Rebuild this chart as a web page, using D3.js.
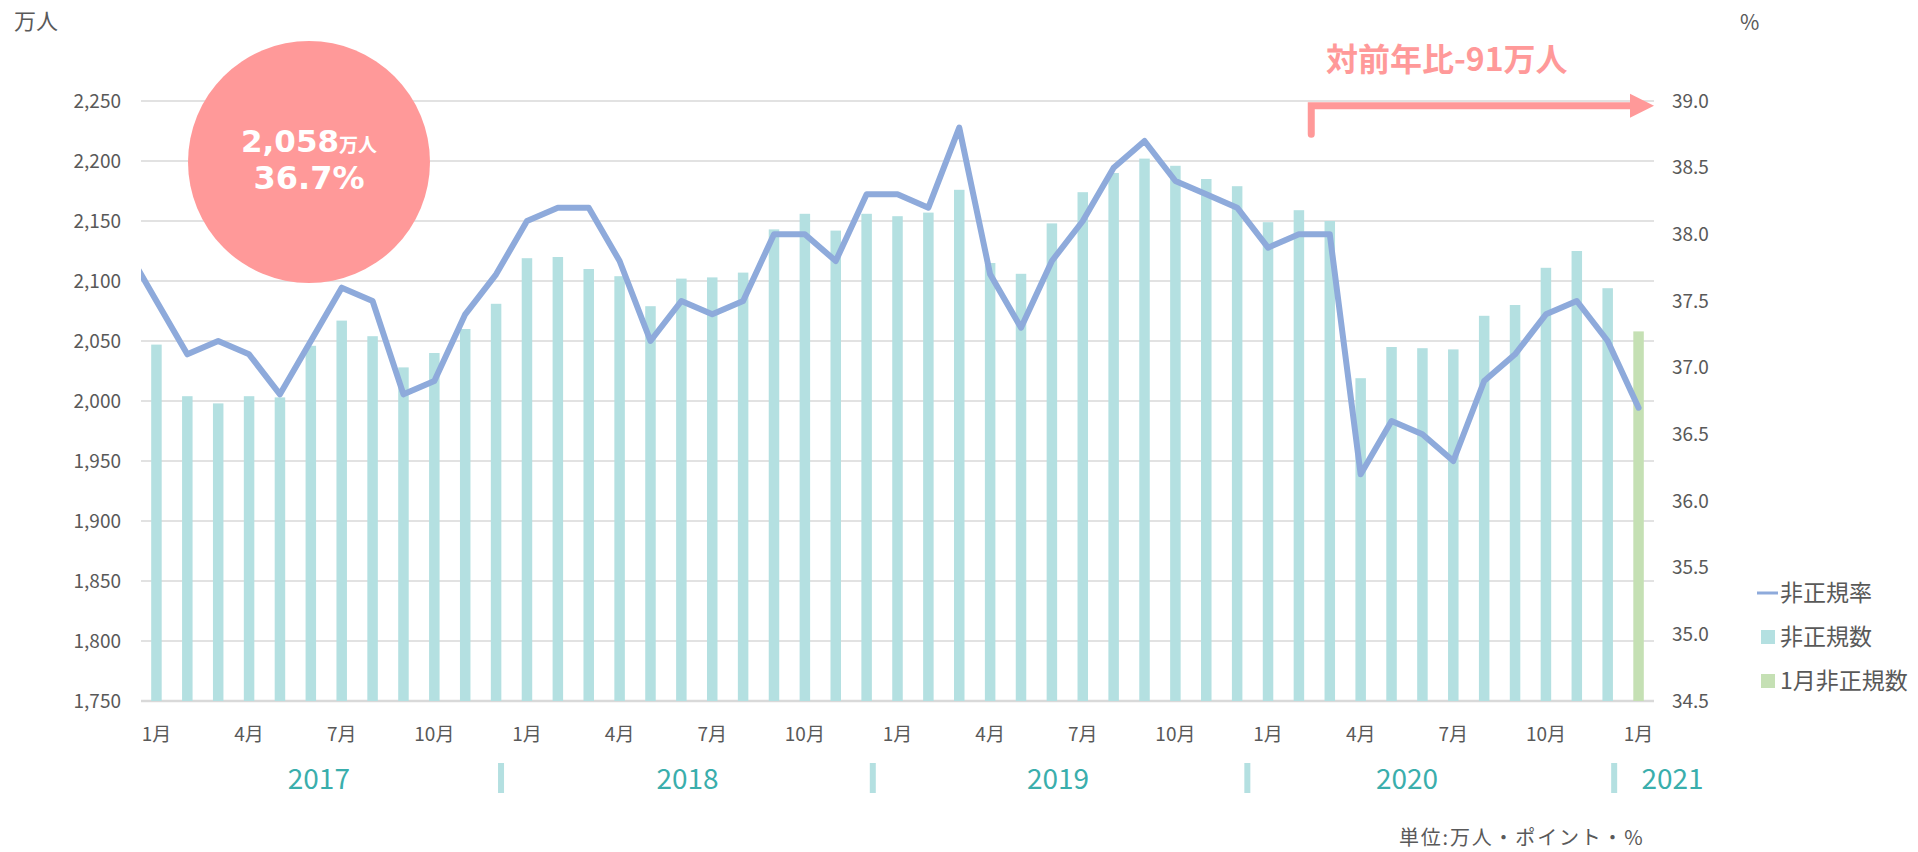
<!DOCTYPE html>
<html>
<head>
<meta charset="utf-8">
<script src="https://cdn.jsdelivr.net/npm/d3@7"></script>
<style>
  body { margin: 0; background: #fff; }
  text { font-family: "Noto Sans CJK JP", "Noto Sans", sans-serif; }
</style>
</head>
<body>
<div id="chart"></div>
<script>
// ---- data ----
var months = ["2017-01","2017-02","2017-03","2017-04","2017-05","2017-06","2017-07","2017-08","2017-09","2017-10","2017-11","2017-12",
              "2018-01","2018-02","2018-03","2018-04","2018-05","2018-06","2018-07","2018-08","2018-09","2018-10","2018-11","2018-12",
              "2019-01","2019-02","2019-03","2019-04","2019-05","2019-06","2019-07","2019-08","2019-09","2019-10","2019-11","2019-12",
              "2020-01","2020-02","2020-03","2020-04","2020-05","2020-06","2020-07","2020-08","2020-09","2020-10","2020-11","2020-12",
              "2021-01"];
// 非正規数 (万人)
var counts = [2047, 2004, 1998, 2004, 2003, 2046, 2067, 2054, 2028, 2040, 2060, 2081,
              2119, 2120, 2110, 2104, 2079, 2102, 2103, 2107, 2143, 2156, 2142, 2156,
              2154, 2157, 2176, 2115, 2106, 2148, 2174, 2190, 2202, 2196, 2185, 2179,
              2149, 2159, 2150, 2019, 2045, 2044, 2043, 2071, 2080, 2111, 2125, 2094,
              2058];
// 非正規率 (%), the line enters from Dec 2016 and is clipped at the plot edge
var ratePrev = 37.9;
var rates = [37.5, 37.1, 37.2, 37.1, 36.8, 37.2, 37.6, 37.5, 36.8, 36.9, 37.4, 37.7,
             38.1, 38.2, 38.2, 37.8, 37.2, 37.5, 37.4, 37.5, 38.0, 38.0, 37.8, 38.3,
             38.3, 38.2, 38.8, 37.7, 37.3, 37.8, 38.1, 38.5, 38.7, 38.4, 38.3, 38.2,
             37.9, 38.0, 38.0, 36.2, 36.6, 36.5, 36.3, 36.9, 37.1, 37.4, 37.5, 37.2,
             36.7];
var leftTicks = [1750, 1800, 1850, 1900, 1950, 2000, 2050, 2100, 2150, 2200, 2250];
var rightTicks = [34.5, 35.0, 35.5, 36.0, 36.5, 37.0, 37.5, 38.0, 38.5, 39.0];
var years = ["2017", "2018", "2019", "2020", "2021"];
var legendItems = [{name: "非正規率", type: "line"}, {name: "非正規数", type: "bar"}, {name: "1月非正規数", type: "hl"}];

// ---- look ----
var w = 1918, h = 852;
var barColor = "#b4e0e1", hlColor = "#c5e0b4", lineColor = "#8eaadb",
    pink = "#ff9999", tealText = "#3aaeac", axisText = "#595959", gridColor = "#d9d9d9";
var margin = {top: 101, left: 141, right: 264, bottom: 151},
    width = w - margin.left - margin.right,
    height = h - margin.top - margin.bottom;
// year label centres and separators, in month-index units
var yearLabelPos = [5.76, 17.7, 29.7, 41.0, 49.6],
    yearSepPos = [11.66, 23.7, 35.83, 47.71];

var svg = d3.select("#chart").append("svg")
    .attr("width", w)
    .attr("height", h);
var g = svg.append("g")
    .attr("transform", "translate(" + margin.left + "," + margin.top + ")");

var x = d3.scaleBand().domain(months).range([0, width]);
var xi = d3.scaleLinear().domain([0, months.length]).range([0, width]);
var y = d3.scaleLinear().domain([1750, 2250]).range([height, 0]);
var y2 = d3.scaleLinear().domain([34.5, 39.0]).range([height, 0]);
var bw = x.step() * 0.34;

// gridlines
g.selectAll(".grid")
  .data(leftTicks)
  .enter().append("line")
    .attr("class", "grid")
    .attr("x1", 0).attr("x2", width)
    .attr("y1", function(d) { return y(d); })
    .attr("y2", function(d) { return y(d); })
    .attr("stroke", gridColor)
    .attr("stroke-width", function(d, i) { return i === 0 ? 2.5 : 1.5; });

// left axis
var axL = g.append("g")
    .call(d3.axisLeft(y).tickValues(leftTicks).tickFormat(d3.format(",")).tickSize(0).tickPadding(20));
axL.select(".domain").remove();
axL.selectAll("text").attr("fill", axisText).style("font-size", "19px");

// right axis
var axR = g.append("g")
    .attr("transform", "translate(" + width + ",0)")
    .call(d3.axisRight(y2).tickValues(rightTicks).tickFormat(d3.format(".1f")).tickSize(0).tickPadding(18));
axR.select(".domain").remove();
axR.selectAll("text").attr("fill", axisText).style("font-size", "19px");

// bottom axis: month labels every quarter
var axB = g.append("g")
    .attr("transform", "translate(0," + height + ")")
    .call(d3.axisBottom(x)
      .tickValues(months.filter(function(d, i) { return i % 3 === 0; }))
      .tickFormat(function(d) { return (+d.slice(5)) + "月"; })
      .tickSize(0).tickPadding(27));
axB.select(".domain").remove();
axB.selectAll("text").attr("fill", axisText).style("font-size", "19px");

// bars
g.selectAll(".bar")
  .data(counts)
  .enter().append("rect")
    .attr("class", "bar")
    .attr("fill", function(d, i) { return i === counts.length - 1 ? hlColor : barColor; })
    .attr("x", function(d, i) { return x(months[i]) + (x.bandwidth() - bw) / 2; })
    .attr("y", function(d) { return y(d); })
    .attr("width", bw)
    .attr("height", function(d) { return height - y(d); });

// line
svg.append("clipPath").attr("id", "plotclip")
  .append("rect").attr("x", 0).attr("y", -20).attr("width", width).attr("height", height + 40);
var linePts = [{x: x(months[0]) + x.bandwidth() / 2 - x.step(), v: ratePrev}]
  .concat(rates.map(function(d, i) { return {x: x(months[i]) + x.bandwidth() / 2, v: d}; }));
g.append("path")
    .datum(linePts)
    .attr("clip-path", "url(#plotclip)")
    .attr("fill", "none")
    .attr("stroke", lineColor)
    .attr("stroke-width", 6)
    .attr("stroke-linejoin", "round")
    .attr("stroke-linecap", "round")
    .attr("d", d3.line().x(function(d) { return d.x; }).y(function(d) { return y2(d.v); }));

// axis unit labels
svg.append("text").attr("x", 14).attr("y", 29).attr("fill", axisText)
  .style("font-size", "22px").text("万人");
svg.append("text").attr("x", 1740).attr("y", 30).attr("fill", axisText)
  .style("font-size", "21px").text("%");

// years row
g.selectAll(".year")
  .data(years)
  .enter().append("text")
    .attr("class", "year")
    .attr("x", function(d, i) { return xi(yearLabelPos[i]); })
    .attr("y", height + 88)
    .attr("text-anchor", "middle")
    .attr("fill", tealText)
    .style("font-size", "28px")
    .text(function(d) { return d; });
g.selectAll(".ysep")
  .data(yearSepPos)
  .enter().append("rect")
    .attr("class", "ysep")
    .attr("x", function(d) { return xi(d) - 3; })
    .attr("y", height + 62)
    .attr("width", 6)
    .attr("height", 30)
    .attr("fill", barColor);

// callout circle with the latest values
var last = counts.length - 1;
var circ = svg.append("g").attr("transform", "translate(309,162)");
circ.append("circle").attr("r", 121).attr("fill", pink);
var t1 = circ.append("text").attr("y", -10).attr("text-anchor", "middle").attr("fill", "#fff");
t1.append("tspan").style("font-family", "'DejaVu Sans', sans-serif").style("font-weight", "bold")
  .style("font-size", "31px").text(d3.format(",")(counts[last]));
t1.append("tspan").style("font-weight", "bold").style("font-size", "19px").text("万人");
circ.append("text").attr("y", 27).attr("text-anchor", "middle").attr("fill", "#fff")
  .style("font-family", "'DejaVu Sans', sans-serif").style("font-weight", "bold")
  .style("font-size", "32px").text(d3.format(".1f")(rates[last]) + "%");

// year-on-year arrow
var ax0 = xi(37.9), ax1 = width;
var arrow = g.append("g").attr("fill", "none").attr("stroke", pink).attr("stroke-width", 7);
arrow.append("path")
  .attr("stroke-linecap", "round")
  .attr("d", "M" + ax0 + "," + (y2(38.75)) + "V" + (y(2246)) + "H" + (ax1 - 22));
arrow.append("path")
  .attr("stroke", "none").attr("fill", pink)
  .attr("d", "M" + (ax1 - 24) + "," + (y(2246) - 12) + "L" + ax1 + "," + y(2246) + "L" + (ax1 - 24) + "," + (y(2246) + 12) + "Z");
svg.append("text").attr("x", 1326).attr("y", 71).attr("fill", pink)
  .style("font-size", "32px").style("font-weight", "bold").text("対前年比-91万人");

// legend
var legend = svg.append("g").attr("transform", "translate(1757,593)");
legendItems.forEach(function(d, i) {
  var row = legend.append("g").attr("transform", "translate(0," + (i * 44) + ")");
  if (d.type === "line") {
    row.append("line").attr("x1", 0).attr("x2", 21).attr("stroke", lineColor).attr("stroke-width", 3);
  } else {
    row.append("rect").attr("x", 4).attr("y", -7).attr("width", 14).attr("height", 14)
      .attr("fill", d.type === "hl" ? hlColor : barColor);
  }
  row.append("text").attr("x", 23).attr("y", 8).attr("fill", axisText)
    .style("font-size", "23px").text(d.name);
});

// unit note
svg.append("text").attr("x", 1399).attr("y", 845).attr("fill", axisText)
  .style("font-size", "20px").style("letter-spacing", "1.8px").text("単位:万人・ポイント・%");
</script>
</body>
</html>
